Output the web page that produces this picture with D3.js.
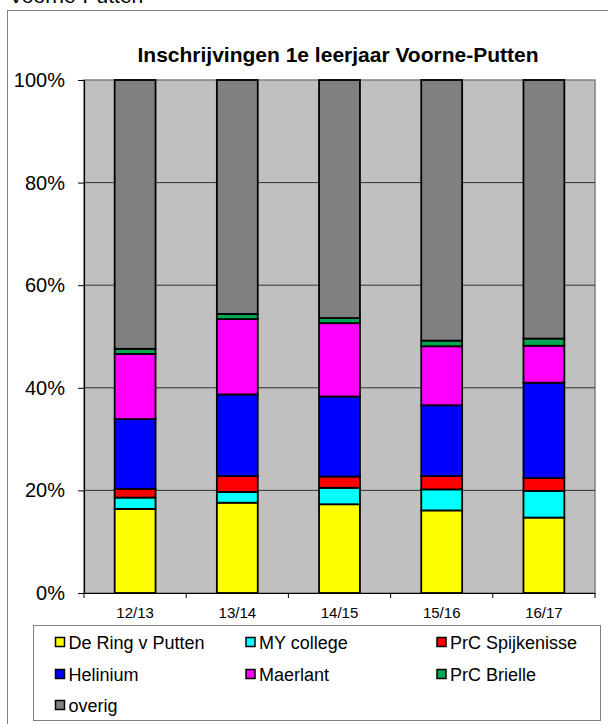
<!DOCTYPE html>
<html>
<head>
<meta charset="utf-8">
<script src="https://cdn.jsdelivr.net/npm/d3@7"></script>
<style>
  html, body { margin: 0; padding: 0; background: #fff; }
  svg { display: block; font-family: "Liberation Sans", Arial, sans-serif; }
</style>
</head>
<body>
<svg id="chart" width="608" height="724"></svg>
<script>
// ---- data (percent shares per school year) ----
const categories = ["12/13", "13/14", "14/15", "15/16", "16/17"];
const seriesNames = ["De Ring v Putten", "MY college", "PrC Spijkenisse", "Helinium", "Maerlant", "PrC Brielle", "overig"];
const deRing   = [16.4, 17.6, 17.3, 16.1, 14.7];
const myCollege = [2.2, 2.1, 3.2, 4.1, 5.2];
const prcSpijk = [1.7, 3.1, 2.2, 2.6, 2.5];
const helinium = [13.6, 15.9, 15.6, 13.8, 18.6];
const maerlant = [12.7, 14.7, 14.3, 11.5, 7.2];
const prcBrielle = [1.0, 1.0, 1.0, 1.1, 1.4];
const overig   = [52.4, 45.6, 46.4, 50.8, 50.4];
const yTicks = [0, 0.2, 0.4, 0.6, 0.8, 1.0];
const colors = ["#ffff00", "#00ffff", "#ff0000", "#0000ff", "#ff00ff", "#00a651", "#808080"];

const seriesValues = [deRing, myCollege, prcSpijk, helinium, maerlant, prcBrielle, overig];
const rows = categories.map((c, i) => {
  const r = { cat: c };
  let total = 0;
  seriesValues.forEach(s => total += s[i]);
  seriesNames.forEach((n, k) => r[n] = seriesValues[k][i] / total);
  return r;
});

const svg = d3.select("#chart");

// outer frame and cut-off heading
svg.append("text").attr("x", 9).attr("y", 3).attr("font-size", 21).attr("fill", "#000").text("Voorne-Putten");
svg.append("rect").attr("x", 7.5).attr("y", 10.5).attr("width", 700).attr("height", 800)
  .attr("fill", "#fff").attr("stroke", "#808080").attr("stroke-width", 1);

// title
svg.append("text").attr("x", 338).attr("y", 62).attr("text-anchor", "middle")
  .attr("font-size", 21).attr("font-weight", "bold").text("Inschrijvingen 1e leerjaar Voorne-Putten");

const x = d3.scaleBand().domain(categories).range([84, 595]).paddingInner(0.6).paddingOuter(0.3);
const y = d3.scaleLinear().domain([0, 1]).range([593, 80]);

// plot area
svg.append("rect").attr("x", 84).attr("y", y(1)).attr("width", 595 - 84).attr("height", y(0) - y(1))
  .attr("fill", "#c0c0c0").attr("stroke", "#808080").attr("stroke-width", 1.5);

// gridlines
svg.append("g").selectAll("line").data(yTicks.filter(t => t > 0 && t < 1)).join("line")
  .attr("x1", 84).attr("x2", 595).attr("y1", d => y(d)).attr("y2", d => y(d))
  .attr("stroke", "#333").attr("stroke-width", 1);

// stacked bars
const stack = d3.stack().keys(seriesNames);
const stacked = stack(rows);
svg.append("g").selectAll("g").data(stacked).join("g")
  .attr("fill", (d, i) => colors[i])
  .selectAll("rect").data(d => d).join("rect")
  .attr("x", d => x(d.data.cat))
  .attr("width", x.bandwidth())
  .attr("y", d => y(d[1]))
  .attr("height", d => y(d[0]) - y(d[1]))
  .attr("stroke", "#000").attr("stroke-width", 1.8);

// y axis
const yAxis = svg.append("g").attr("transform", "translate(84,0)")
  .call(d3.axisLeft(y).tickValues(yTicks).tickFormat(d3.format(".0%")).tickSize(6).tickPadding(13));
yAxis.select(".domain").attr("stroke", "#000").attr("stroke-width", 1.2);
yAxis.selectAll(".tick line").attr("stroke", "#000");
yAxis.selectAll("text").attr("font-size", 20).attr("font-family", "Liberation Sans, Arial, sans-serif").attr("fill", "#000");

// x axis
const xAxis = svg.append("g").attr("transform", `translate(0,${y(0)})`)
  .call(d3.axisBottom(x).tickSize(0).tickPadding(14).tickSizeOuter(0));
xAxis.select(".domain").attr("stroke", "#000").attr("stroke-width", 1.2);
xAxis.selectAll("text").attr("font-size", 15).attr("font-family", "Liberation Sans, Arial, sans-serif").attr("fill", "#000");
// category separator ticks
const bounds = d3.range(categories.length + 1).map(i => x.range()[0] + i * x.step());
xAxis.selectAll(".sep").data(bounds).join("line").attr("class", "sep")
  .attr("x1", d => d).attr("x2", d => d).attr("y1", 0).attr("y2", 5)
  .attr("stroke", "#000").attr("stroke-width", 1);

// legend
const lg = svg.append("g");
lg.append("rect").attr("x", 33.5).attr("y", 625.5).attr("width", 567).attr("height", 95)
  .attr("fill", "#fff").attr("stroke", "#808080").attr("stroke-width", 1);
const colX = [55, 245.5, 436.5];
const rowY = [642, 674, 705];
const items = lg.selectAll("g.item").data(seriesNames).join("g").attr("class", "item")
  .attr("transform", (d, i) => `translate(${colX[i % 3]},${rowY[Math.floor(i / 3)]})`);
items.append("rect").attr("x", 0.5).attr("y", -4.5).attr("width", 9).attr("height", 9)
  .attr("fill", (d, i) => colors[i]).attr("stroke", "#000").attr("stroke-width", 1.5);
items.append("text").attr("x", 13.5).attr("y", 6.5).attr("font-size", 18).attr("fill", "#000").text(d => d);
</script>
</body>
</html>
